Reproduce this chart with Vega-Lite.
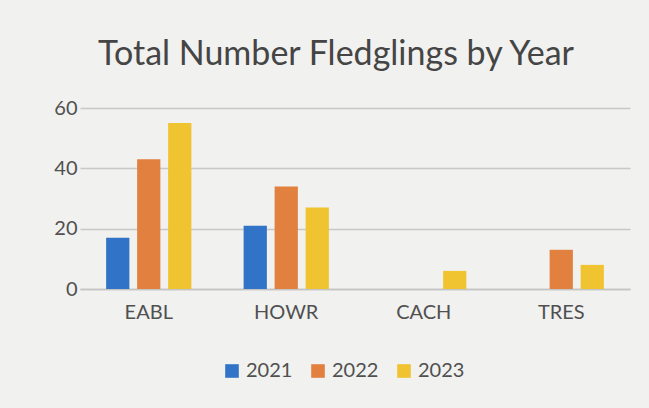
{
  "$schema": "https://vega.github.io/schema/vega-lite/v6.json",
  "width": 550,
  "height": 181,
  "autosize": {"type": "none"},
  "padding": {"left": 80, "top": 108, "right": 19, "bottom": 119},
  "background": "#f1f1ef",
  "config": {"font": "Lato", "view": {"stroke": null}},
  "title": {
    "text": "Total Number Fledglings by Year",
    "fontSize": 34,
    "font": "Lato",
    "fontWeight": "normal",
    "color": "#454545",
    "offset": 26,
    "dx": -19
  },
  "data": {
    "values": [
      {"species": "EABL", "year": "2021", "count": 17},
      {"species": "EABL", "year": "2022", "count": 43},
      {"species": "EABL", "year": "2023", "count": 55},
      {"species": "HOWR", "year": "2021", "count": 21},
      {"species": "HOWR", "year": "2022", "count": 34},
      {"species": "HOWR", "year": "2023", "count": 27},
      {"species": "CACH", "year": "2023", "count": 6},
      {"species": "TRES", "year": "2022", "count": 13},
      {"species": "TRES", "year": "2023", "count": 8}
    ]
  },
  "mark": {"type": "bar"},
  "encoding": {
    "x": {
      "field": "species",
      "type": "nominal",
      "sort": ["EABL", "HOWR", "CACH", "TRES"],
      "scale": {"paddingInner": 0.38, "paddingOuter": 0.19},
      "axis": {
        "title": null,
        "labelAngle": 0,
        "labelFontSize": 20,
        "labelColor": "#505050",
        "labelPadding": 13,
        "ticks": false,
        "domain": true,
        "domainColor": "#c4c4c4",
        "domainWidth": 1.5
      }
    },
    "xOffset": {
      "field": "year",
      "type": "nominal",
      "scale": {"domain": ["2021", "2022", "2023"], "paddingInner": 0.25}
    },
    "y": {
      "field": "count",
      "type": "quantitative",
      "scale": {"domain": [0, 60]},
      "axis": {
        "title": null,
        "values": [0, 20, 40, 60],
        "labelFontSize": 20,
        "labelColor": "#505050",
        "labelPadding": 3,
        "ticks": false,
        "domain": false,
        "gridColor": "#c8c8c8",
        "gridWidth": 1.5
      }
    },
    "color": {
      "field": "year",
      "type": "nominal",
      "scale": {"domain": ["2021", "2022", "2023"], "range": ["#3174c7", "#e2813f", "#f0c330"]},
      "legend": {
        "title": null,
        "orient": "none",
        "direction": "horizontal",
        "legendX": 142,
        "legendY": 253,
        "symbolType": "square",
        "symbolSize": 185,
        "symbolStrokeWidth": 0,
        "labelFontSize": 20,
        "labelColor": "#505050",
        "columnPadding": 15,
        "labelOffset": 4
      }
    }
  }
}
